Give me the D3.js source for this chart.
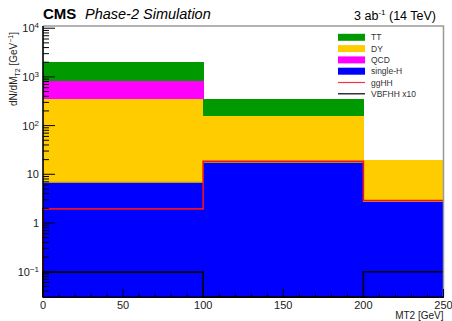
<!DOCTYPE html>
<html>
<head>
<meta charset="utf-8">
<script src="https://cdn.jsdelivr.net/npm/d3@7"></script>
<style>
  body { margin: 0; background: #fff; }
  text { font-family: "Liberation Sans", Arial, sans-serif; }
</style>
</head>
<body>
<div id="chart"></div>
<script>
// bin edges of MT2 [GeV]
const binEdges = [0, 100, 200, 250];
// stacked backgrounds, per bin
const singleH = [6.85, 17.5, 2.8];
const dy = [353, 142, 17.2];
const qcd = [468, 1.5, 0];
const tt = [1240, 188, 0];
// signals drawn as lines on top
const ggHH = [1.95, 18.5, 2.9];
const vbfhhX10 = [0.098, 0, 0.1];

const xTicks = [0, 50, 100, 150, 200, 250];
const yTicks = [0.1, 1, 10, 100, 1000, 10000];

var width = 452, height = 321;
var margin = { top: 26, right: 8.5, bottom: 24, left: 43 };

var svg = d3.select("#chart").append("svg")
  .attr("width", width)
  .attr("height", height);

var x = d3.scaleLinear().domain([0, 250]).range([margin.left, width - margin.right]);
var y = d3.scaleLog().domain([0.0302, 11100]).range([height - margin.bottom, margin.top]).clamp(true);

// stack backgrounds bottom-up
var rows = binEdges.slice(0, -1).map(function (e, i) {
  return { i: i, singleH: singleH[i], dy: dy[i], qcd: qcd[i], tt: tt[i] };
});
var keys = ["singleH", "dy", "qcd", "tt"];
var colors = { singleH: "#0000ff", dy: "#ffcc00", qcd: "#ff00ff", tt: "#009900" };
var layers = d3.stack().keys(keys)(rows);

layers.forEach(function (layer) {
  svg.append("g").selectAll("rect")
    .data(layer.filter(function (d) { return d[1] - d[0] > 0; }))
    .enter().append("rect")
    .attr("shape-rendering", "crispEdges")
    .attr("x", function (d) { return x(binEdges[d.data.i]); })
    .attr("width", function (d) { return x(binEdges[d.data.i + 1]) - x(binEdges[d.data.i]) + 0.5; })
    .attr("y", function (d) { return y(d[1]); })
    .attr("height", function (d) { return y(Math.max(d[0], 1e-9)) - y(d[1]) + 0.5; })
    .attr("fill", colors[layer.key]);
});

// thin edge on top of single-H
svg.append("path")
  .datum(singleH.concat([singleH[singleH.length - 1]]))
  .attr("fill", "none")
  .attr("stroke", "#8a7a40")
  .attr("stroke-width", 0.8)
  .attr("d", d3.line().curve(d3.curveStepAfter)
    .x(function (d, i) { return x(binEdges[i]); })
    .y(function (d) { return y(Math.max(d, 1e-9)); }));

// step lines for signals
function stepLine(vals, color) {
  var pts = [[binEdges[0], 1e-9]];
  vals.forEach(function (v, i) {
    pts.push([binEdges[i], v]);
    pts.push([binEdges[i + 1], v]);
  });
  svg.append("path")
    .datum(pts)
    .attr("fill", "none")
    .attr("stroke", color)
    .attr("stroke-width", 1.6)
    .attr("d", d3.line()
      .x(function (d) { return x(d[0]); })
      .y(function (d) { return y(Math.max(d[1], 1e-9)); }));
}
stepLine(ggHH, "#ee1122");
stepLine(vbfhhX10, "#000000");

// frame: grey top/right
var x0 = x(0), x1 = x(250), yb = y.range()[0], yt = y.range()[1];
svg.append("path")
  .attr("d", "M" + x0 + "," + yt + "H" + x1 + "V" + yb)
  .attr("fill", "none").attr("stroke", "#999").attr("stroke-width", 1.5);

// y axis ticks (inside)
var yAx = svg.append("g");
var minor = [];
for (var e = -2; e <= 4; e++) {
  for (var m = 2; m <= 9; m++) {
    var v = m * Math.pow(10, e);
    if (v > y.domain()[0] && v < y.domain()[1]) minor.push(v);
  }
}
yAx.selectAll(".mn").data(minor).enter().append("line")
  .attr("x1", x0).attr("x2", x0 + 6)
  .attr("y1", function (d) { return y(d); }).attr("y2", function (d) { return y(d); })
  .attr("stroke", "#000").attr("stroke-width", 1);
yAx.selectAll(".mj").data(yTicks).enter().append("line")
  .attr("x1", x0).attr("x2", x0 + 12)
  .attr("y1", function (d) { return y(d); }).attr("y2", function (d) { return y(d); })
  .attr("stroke", "#000").attr("stroke-width", 1);

var yLab = yAx.selectAll(".lb").data(yTicks).enter().append("text")
  .attr("x", x0 - 4)
  .attr("y", function (d) { return y(d) + 4; })
  .attr("text-anchor", "end")
  .attr("font-size", 11)
  .attr("fill", "#222");
yLab.each(function (d) {
  var t = d3.select(this);
  var ex = Math.round(Math.log10(d));
  if (ex === 0) { t.text("1"); return; }
  if (ex === 1) { t.text("10"); return; }
  t.append("tspan").text("10");
  t.append("tspan").attr("dy", -4).attr("font-size", 8).text(String(ex).replace("-", "\u2212"));
});

// x axis ticks (inside)
var xAx = svg.append("g");
xAx.selectAll(".mn").data(d3.range(0, 251, 10)).enter().append("line")
  .attr("x1", function (d) { return x(d); }).attr("x2", function (d) { return x(d); })
  .attr("y1", yb).attr("y2", function (d) { return d % 50 === 0 ? yb - 8 : yb - 4; })
  .attr("stroke", "#000").attr("stroke-width", 1);
xAx.selectAll(".lb").data(xTicks).enter().append("text")
  .attr("x", function (d) { return x(d); })
  .attr("y", yb + 11.5)
  .attr("text-anchor", "middle")
  .attr("font-size", 11)
  .attr("fill", "#222")
  .text(function (d) { return d; });

// axis lines
svg.append("path")
  .attr("d", "M" + x0 + "," + yt + "V" + yb + "H" + x1)
  .attr("fill", "none").attr("stroke", "#000").attr("stroke-width", 1.6);

// axis titles
svg.append("text")
  .attr("x", x1).attr("y", 319)
  .attr("text-anchor", "end").attr("font-size", 10).attr("fill", "#222")
  .text("MT2 [GeV]");

var yt1 = svg.append("text")
  .attr("transform", "translate(17,69) rotate(-90)")
  .attr("text-anchor", "middle").attr("font-size", 10).attr("fill", "#222");
yt1.append("tspan").text("dN/dM");
yt1.append("tspan").attr("dy", 3).attr("font-size", 7).text("T2");
yt1.append("tspan").attr("dy", -3).text(" [GeV");
yt1.append("tspan").attr("dy", -4).attr("font-size", 7).text("\u22121");
yt1.append("tspan").attr("dy", 4).text("]");

// header
svg.append("text").attr("x", 43).attr("y", 19)
  .attr("font-size", 15).attr("font-weight", "bold").attr("fill", "#000").text("CMS");
svg.append("text").attr("x", 85).attr("y", 19)
  .attr("font-size", 14.5).attr("font-style", "italic").attr("fill", "#000").text("Phase-2 Simulation");
var lumi = svg.append("text").attr("x", 436).attr("y", 20)
  .attr("text-anchor", "end").attr("font-size", 12.5).attr("fill", "#000");
lumi.append("tspan").text("3 ab");
lumi.append("tspan").attr("dy", -5).attr("font-size", 8).text("-1");
lumi.append("tspan").attr("dy", 5).text(" (14 TeV)");

// legend
var legendItems = [
  { label: "TT", color: colors.tt, type: "fill" },
  { label: "DY", color: colors.dy, type: "fill" },
  { label: "QCD", color: colors.qcd, type: "fill" },
  { label: "single-H", color: colors.singleH, type: "fill" },
  { label: "ggHH", color: "#ff3333", type: "line" },
  { label: "VBFHH x10", color: "#000", type: "line" }
];
var lg = svg.append("g").selectAll("g").data(legendItems).enter().append("g")
  .attr("transform", function (d, i) { return "translate(338," + (37.3 + i * 11.3) + ")"; });
lg.filter(function (d) { return d.type === "fill"; }).append("rect")
  .attr("x", 0).attr("y", -3.5).attr("width", 27).attr("height", 7)
  .attr("fill", function (d) { return d.color; });
lg.filter(function (d) { return d.type === "line"; }).append("line")
  .attr("x1", 0).attr("x2", 27).attr("y1", 0).attr("y2", 0)
  .attr("stroke", function (d) { return d.color; }).attr("stroke-width", 1.2);
lg.append("text")
  .attr("x", 33).attr("y", 3)
  .attr("font-size", 8.5).attr("fill", "#333")
  .text(function (d) { return d.label; });
</script>
</body>
</html>
